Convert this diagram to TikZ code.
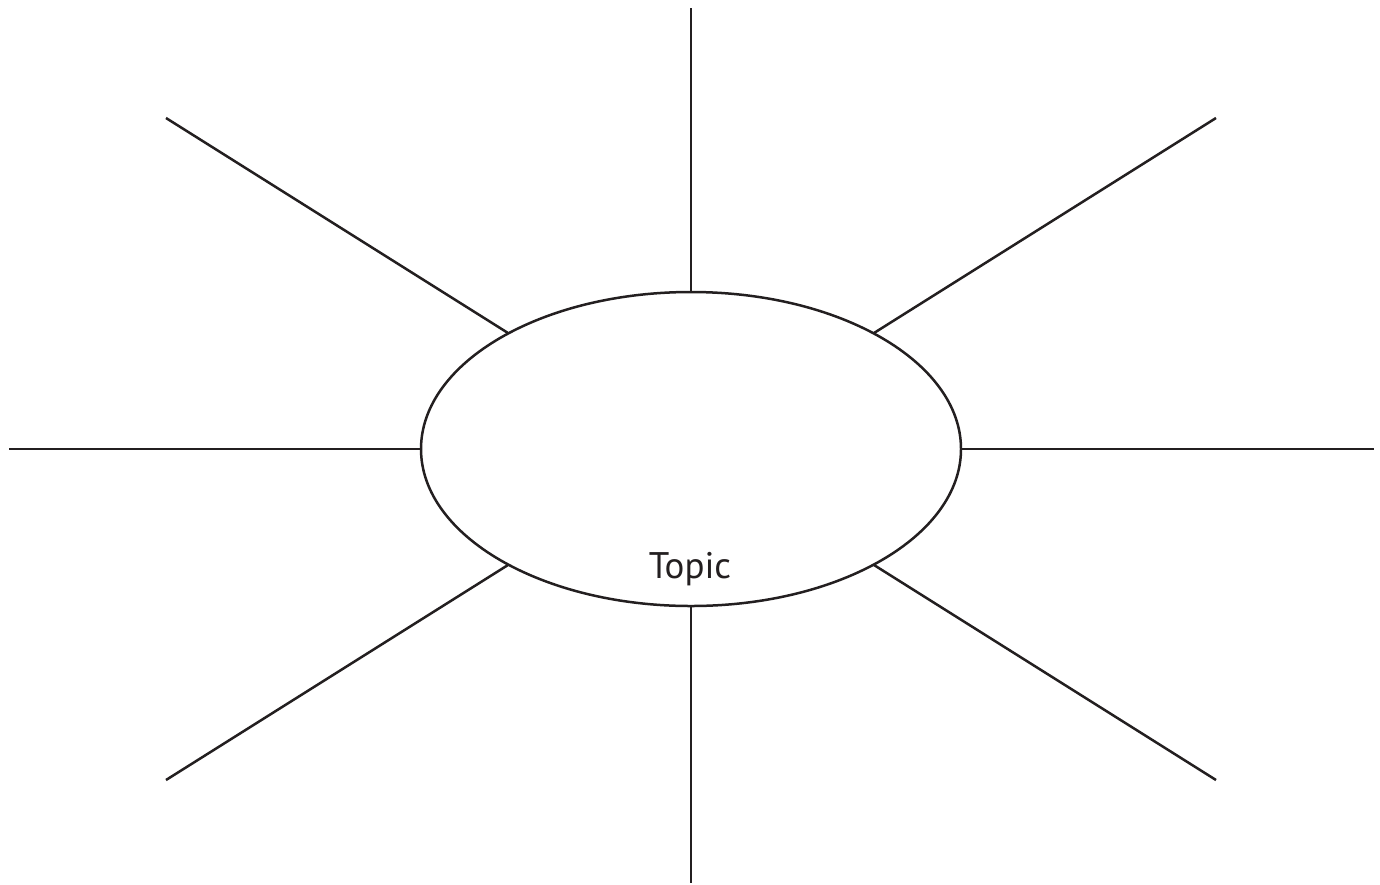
\documentclass[tikz,border=0pt]{standalone}
\usepackage{fontspec}
\setmainfont{PT Sans}
\definecolor{ink}{HTML}{231F20}
\begin{document}
\begin{tikzpicture}[x=1pt,y=-1pt,
  spoke/.style={draw=ink,line width=2.5pt}]
\useasboundingbox (0,0) rectangle (1380,884);
\draw[spoke] (691,449) ellipse [x radius=270, y radius=157];
\coordinate (eT) at (691,292);
\coordinate (eB) at (691,606);
\coordinate (eL) at (421,449);
\coordinate (eR) at (961,449);
\coordinate (eUL) at (508,333);
\coordinate (eUR) at (874,333);
\coordinate (eLL) at (508,565);
\coordinate (eLR) at (874,565);
\coordinate (oT) at (691,8);
\coordinate (oB) at (691,883);
\coordinate (oL) at (9,449);
\coordinate (oR) at (1374,449);
\coordinate (oUL) at (166,118);
\coordinate (oUR) at (1216,118);
\coordinate (oLL) at (166,780);
\coordinate (oLR) at (1216,780);
\foreach \p in {T,B,L,R,UL,UR,LL,LR}{\draw[spoke] (e\p) -- (o\p);}
\node[anchor=base,inner sep=0pt,font=\fontsize{37}{40}\selectfont,text=ink] (topic) at (690,578) {Topic};
\end{tikzpicture}
\end{document}
